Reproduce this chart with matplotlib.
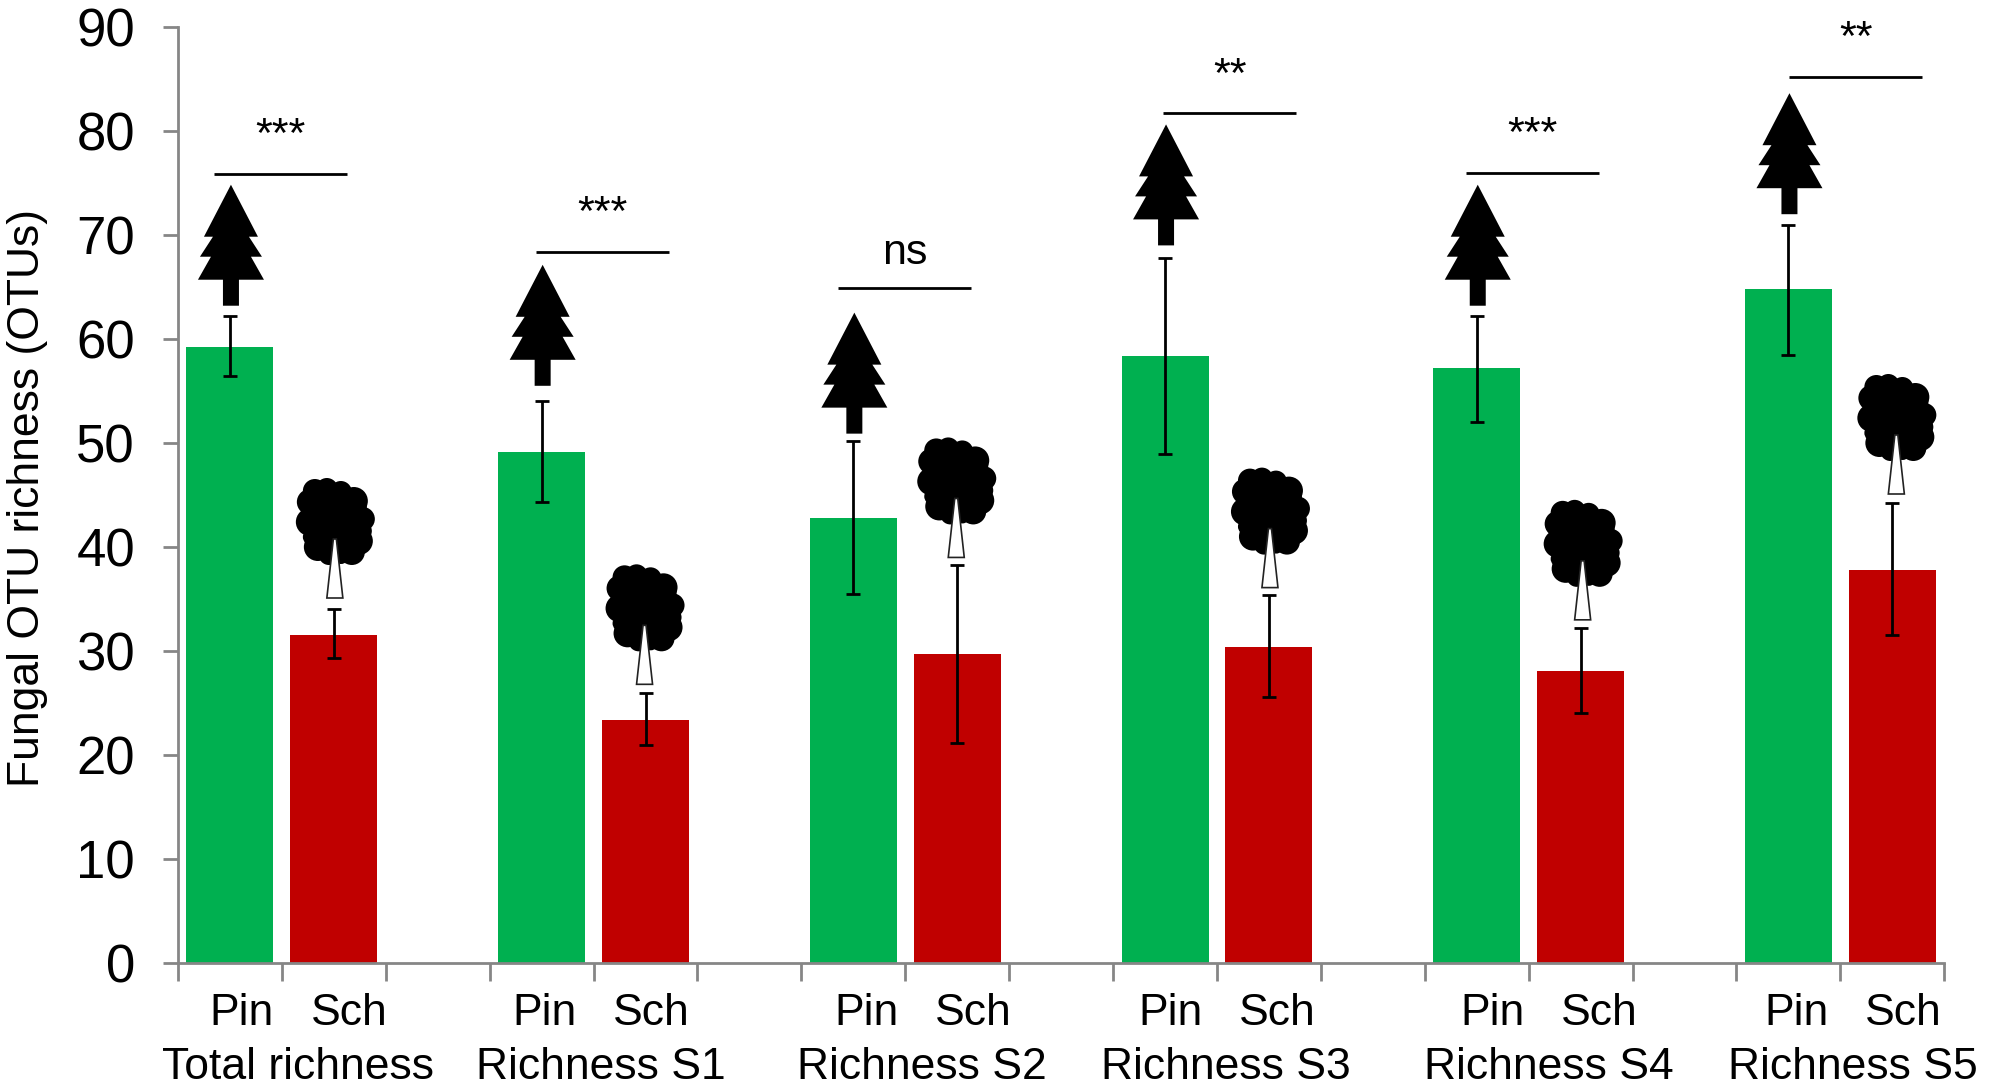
import matplotlib
matplotlib.use('Agg')
from matplotlib import pyplot as plt
from matplotlib.patches import Circle, Polygon
from matplotlib.transforms import Affine2D

plt.rcParams['font.family'] = ['Liberation Sans', 'DejaVu Sans']

grupos = ["Total richness", "Richness S1", "Richness S2", "Richness S3", "Richness S4", "Richness S5"]
pin = [59.2, 49.1, 42.8, 58.4, 57.2, 64.8]
pin_bajo = [56.4, 44.3, 35.5, 48.9, 52.0, 58.5]
pin_alto = [62.2, 54.0, 50.2, 67.8, 62.2, 71.0]
sch = [31.5, 23.4, 29.7, 30.4, 28.1, 37.8]
sch_bajo = [29.3, 21.0, 21.2, 25.6, 24.0, 31.5]
sch_alto = [34.0, 26.0, 38.3, 35.4, 32.2, 44.2]
base_pino = [63.2, 55.5, 50.9, 69.0, 63.2, 72.0]
base_arbol = [35.0, 26.7, 38.9, 36.0, 32.9, 45.0]
signif = ["***", "***", "ns", "**", "***", "**"]
nivel_signif = [75.9, 68.4, 64.9, 81.7, 76.0, 85.2]

# ajustes a mano en pixeles (las etiquetas del original no estan alineadas)
corr_etiqueta = [12, 3, 13, 5, 16, 8]
corr_linea = [-16, -6, -15, -2, -11, 1]
corr_arbol = [1, -1, -1, 1, 2, 4]

GRIS = "#868686"
ANCHO_CAT = 103.9

PINO = [(1, 121), (28, 69), (19, 69), (32, 49), (21, 49), (34, 26), (9, 26), (9, 0),
        (-7, 0), (-7, 26), (-32, 26), (-19, 49), (-30, 49), (-17, 69), (-26, 69)]
COPA = [(-20, 108), (-8, 110), (6, 107), (19, 98), (28, 80), (24, 58), (17, 47),
        (-17, 52), (-25, 77), (-25, 97), (0, 80), (-10, 57), (10, 57), (-14, 92),
        (14, 92), (0, 98), (-6, 44), (6, 44), (-24, 62), (27, 68)]
RADIOS = [12, 11, 11, 14, 12, 14, 13, 14, 14, 13, 30, 17, 18, 18, 18, 15, 10, 9, 8, 10]
TRONCO = [(-1.5, 60), (1.5, 60), (8, 1), (-8, 1)]


def dibujar_pino(ax, x, y):
    px, py = ax.transData.transform((x, y))
    tr = Affine2D().translate(px, py)
    ax.add_patch(Polygon(PINO, closed=True, fc="black", ec="none", transform=tr, clip_on=False, zorder=4))


def dibujar_arbol(ax, x, y, corr):
    px, py = ax.transData.transform((x, y))
    tr = Affine2D().translate(px + corr, py)
    for centro, radio in zip(COPA, RADIOS):
        ax.add_patch(Circle(centro, radio, fc="black", ec="none", transform=tr, clip_on=False, zorder=4))
    ax.add_patch(Polygon(TRONCO, closed=True, fc="white", ec="#222222", lw=1.2, transform=tr, clip_on=False,
                         zorder=5))


def main():
    fig = plt.figure(figsize=(20.06, 10.89), dpi=100)
    ax = fig.add_axes([178 / 2006, 126 / 1089, 17 * ANCHO_CAT / 2006, 936 / 1089])
    ax.set_xlim(0, 17)
    ax.set_ylim(0, 90)

    for i in range(len(grupos)):
        x_pin = 3 * i + 0.5
        x_sch = 3 * i + 1.5
        ax.bar(x_pin, pin[i], width=0.837, color="#00B050", zorder=2)
        ax.bar(x_sch, sch[i], width=0.837, color="#C00000", zorder=2)
        ax.errorbar(x_pin, pin[i], yerr=[[pin[i] - pin_bajo[i]], [pin_alto[i] - pin[i]]],
                    color="black", lw=2, capsize=5, capthick=2, zorder=3)
        ax.errorbar(x_sch, sch[i], yerr=[[sch[i] - sch_bajo[i]], [sch_alto[i] - sch[i]]],
                    color="black", lw=2, capsize=5, capthick=2, zorder=3)

        dibujar_pino(ax, x_pin, base_pino[i])
        dibujar_arbol(ax, x_sch, base_arbol[i], corr_arbol[i])

        # linea de significancia
        izq = x_pin + corr_linea[i] / ANCHO_CAT
        der = izq + 133 / ANCHO_CAT
        ax.plot([izq, der], [nivel_signif[i]] * 2, color="black", lw=2, zorder=3, clip_on=False,
                solid_capstyle="butt")
        if signif[i] == "ns":
            ax.text((izq + der) / 2, nivel_signif[i] + 1.4, signif[i], fontsize=31, ha="center", va="bottom")
        else:
            ax.text((izq + der) / 2, nivel_signif[i] + 1.7, signif[i], fontsize=31, ha="center", va="bottom")

        # etiquetas
        corr = corr_etiqueta[i]
        trans = ax.get_xaxis_transform()
        ax.text(x_pin + corr / ANCHO_CAT, -0.0662, "Pin", fontsize=32, ha="center", va="baseline", transform=trans)
        ax.text(x_sch + (corr + 3) / ANCHO_CAT, -0.0662, "Sch", fontsize=32, ha="center", va="baseline",
                transform=trans)
        ax.text(x_pin + 0.5 + (corr + 4) / ANCHO_CAT, -0.1239, grupos[i], fontsize=32, ha="center", va="baseline",
                transform=trans)

    ax.spines['top'].set_visible(False)
    ax.spines['right'].set_visible(False)
    ax.spines['left'].set_color(GRIS)
    ax.spines['bottom'].set_color(GRIS)
    ax.spines['left'].set_linewidth(2)
    ax.spines['bottom'].set_linewidth(2)

    ax.set_xticks(range(18))
    ax.set_xticklabels([])
    ax.set_yticks(range(0, 91, 10))
    ax.tick_params(axis='x', length=13, width=2, color=GRIS)
    ax.tick_params(axis='y', length=11, width=2, color=GRIS, labelsize=38, pad=20)

    fig.text(28 / 2006, 1 - 498 / 1089, "Fungal OTU richness (OTUs)", fontsize=32, rotation=90,
             ha="center", va="center")

    fig.savefig("out.png", dpi=100)


if __name__ == '__main__':
    main()
